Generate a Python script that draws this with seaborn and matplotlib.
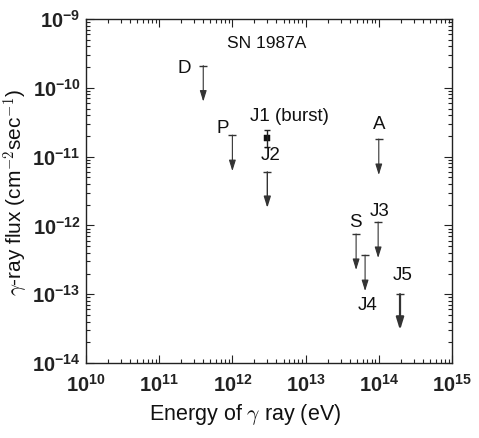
import matplotlib
matplotlib.use("Agg")
import matplotlib.pyplot as plt
import seaborn as sns
import numpy as np
import pandas as pd
from matplotlib.ticker import LogLocator, FixedLocator, NullFormatter

sns.set_style("ticks")
plt.rcParams['font.family'] = ['Liberation Sans', 'DejaVu Sans']
plt.rcParams['mathtext.fontset'] = 'custom'
plt.rcParams['mathtext.rm'] = 'Liberation Sans'
plt.rcParams['mathtext.it'] = 'Liberation Sans:italic'
plt.rcParams['mathtext.bf'] = 'Liberation Sans:bold'

# Upper limits
limit_names = ["D", "P", "J2", "A", "J3", "S", "J4", "J5"]
limit_energy = [4.0e11, 1.0e12, 3.0e12, 1.0e14, 9.8e13, 4.9e13, 6.5e13, 1.95e14]
limit_flux = [2.1e-10, 2.05e-11, 6.0e-12, 1.8e-11, 1.12e-12, 7.5e-13, 3.7e-13, 1.0e-13]
limit_width = [0.8, 0.8, 1.0, 0.8, 0.8, 0.8, 0.8, 1.6]

# Detection (burst)
burst_energy = [3.0e12]
burst_flux = [1.85e-11]
burst_err_lo = [1.4e-11]
burst_err_hi = [2.45e-11]

x_ticks = [1e10, 1e11, 1e12, 1e13, 1e14, 1e15]
x_ticklabels = [r"$\mathbf{10^{10}}$", r"$\mathbf{10^{11}}$", r"$\mathbf{10^{12}}$",
                r"$\mathbf{10^{13}}$", r"$\mathbf{10^{14}}$", r"$\mathbf{10^{15}}$"]
y_ticks = [1e-14, 1e-13, 1e-12, 1e-11, 1e-10, 1e-9]
y_ticklabels = [r"$\mathbf{10^{-14}}$", r"$\mathbf{10^{-13}}$", r"$\mathbf{10^{-12}}$",
                r"$\mathbf{10^{-11}}$", r"$\mathbf{10^{-10}}$", r"$\mathbf{10^{-9}}$"]

fig = plt.figure(figsize=(4.79, 4.38), dpi=100)
ax = fig.add_axes([0.1795, 0.1712, 0.7641, 0.7854])
ax.set_xscale("log")
ax.set_yscale("log")
ax.set_xlim(1e10, 1e15)
ax.set_ylim(1e-14, 1e-9)

arrow_factor = 0.3
for e, f, w in zip(limit_energy, limit_flux, limit_width):
    ax.annotate("", xy=(e, f * arrow_factor), xytext=(e, f),
                arrowprops=dict(arrowstyle="-|>,head_length=0.9,head_width=0.28",
                                color="#333333", lw=w,
                                mutation_scale=6.5 + w, shrinkA=0, shrinkB=0))

lim_df = pd.DataFrame({"E": limit_energy, "F": limit_flux})
sns.scatterplot(data=lim_df, x="E", y="F", marker="_", s=30, color="#333333",
                linewidth=1.0, ax=ax, legend=False)

burst_df = pd.DataFrame({"E": burst_energy, "F": burst_flux})
ax.errorbar(burst_energy, burst_flux,
            yerr=[[burst_flux[0] - burst_err_lo[0]], [burst_err_hi[0] - burst_flux[0]]],
            fmt="none", ecolor="#222222", elinewidth=1.0, capsize=2.5)
sns.scatterplot(data=burst_df, x="E", y="F", marker="s", s=16, color="#111111",
                edgecolor="#111111", ax=ax, legend=False)

# Labels
label_kw = dict(fontsize=13.5, color="#111111", ha="center", va="center")
ax.text(2.9e12, 4.4e-10, "SN 1987A", **{**label_kw, "fontsize": 12.5})
ax.text(2.2e11, 1.9e-10, "D", **label_kw)
ax.text(7.3e11, 2.55e-11, "P", **label_kw)
ax.text(6.0e12, 3.8e-11, "J1 (burst)", **label_kw)
ax.text(3.3e12, 1.05e-11, "J2", **label_kw)
ax.text(1.0e14, 2.9e-11, "A", **label_kw)
ax.text(1.02e14, 1.6e-12, "J3", **label_kw)
ax.text(4.8e13, 1.1e-12, "S", **label_kw)
ax.text(7.0e13, 6.8e-14, "J4", **label_kw)
ax.text(2.1e14, 1.9e-13, "J5", **label_kw)

ax.xaxis.set_major_locator(FixedLocator(x_ticks))
ax.set_xticklabels(x_ticklabels)
ax.yaxis.set_major_locator(FixedLocator(y_ticks))
ax.set_yticklabels(y_ticklabels)
ax.xaxis.set_minor_locator(LogLocator(base=10, subs=np.arange(2, 10), numticks=20))
ax.yaxis.set_minor_locator(LogLocator(base=10, subs=np.arange(2, 10), numticks=20))
ax.xaxis.set_minor_formatter(NullFormatter())
ax.yaxis.set_minor_formatter(NullFormatter())
ax.tick_params(which="both", direction="in", top=True, right=True, colors="#222222",
               labelsize=14.5, width=0.8)
ax.tick_params(which="major", length=6)
ax.tick_params(axis="x", which="major", pad=8)
ax.tick_params(axis="y", which="major", pad=4)
ax.tick_params(which="minor", length=3)
for s in ax.spines.values():
    s.set_linewidth(1.0)
    s.set_color("#222222")

ax.set_xlabel(r"Energy of $\gamma$ ray (eV)", fontsize=15.5, color="#111111",
              math_fontfamily="cm")
ax.set_ylabel(r"$\gamma$-ray flux (cm$^{-2}$sec$^{-1}$)", fontsize=15, color="#111111",
              math_fontfamily="cm")
ax.xaxis.set_label_coords(0.434, -0.113)
ax.yaxis.set_label_coords(-0.15, 0.497)

fig.savefig("out.png", dpi=100)
